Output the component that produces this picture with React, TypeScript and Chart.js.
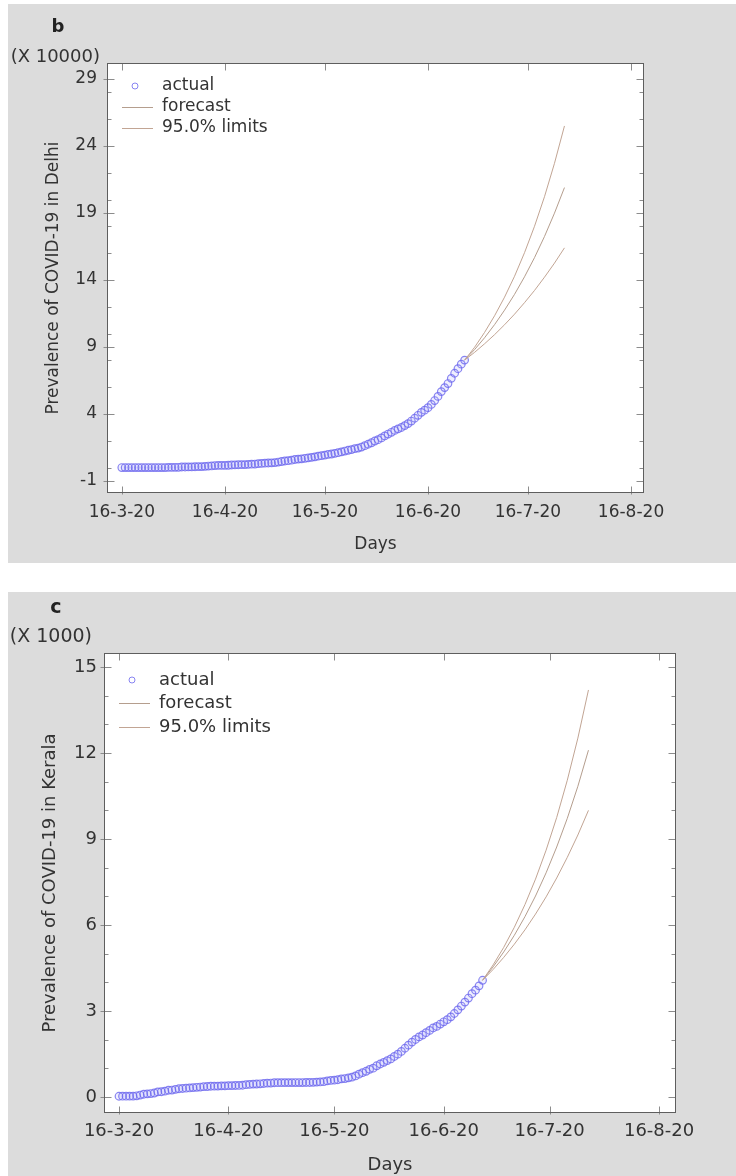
import React, { useEffect, useRef } from "react";
import { Chart, registerables } from "chart.js";

Chart.register(...registerables);

// ---------- data ----------
const xTickDays = [0, 31, 61, 92, 122, 153]; // days after 16-3-20
const xTickLabels = ["16-3-20", "16-4-20", "16-5-20", "16-6-20", "16-7-20", "16-8-20"];
const legendLabels = ["actual", "forecast", "95.0% limits"];
const forecastDays = [103, 106, 109, 112, 115, 118, 121, 124, 127, 130, 133];

// Delhi (X 10000), daily from 16-3-20
const delhiActual = [
  0, 0, 0, 0, 0, 0, 0, 0, 0, 0, 0, 0, 0, 0, 0.01, 0.01,
  0.02, 0.02, 0.04, 0.04, 0.05, 0.05, 0.06, 0.07, 0.07, 0.09, 0.11, 0.12, 0.15, 0.16, 0.16,
  0.16, 0.17, 0.19, 0.2, 0.21, 0.22, 0.22, 0.24, 0.25, 0.26, 0.29, 0.31, 0.33, 0.34, 0.35,
  0.37, 0.41, 0.45, 0.49, 0.51, 0.55, 0.6, 0.63, 0.65, 0.69, 0.72, 0.76, 0.8, 0.85, 0.89,
  0.93, 0.98, 1.01, 1.06, 1.11, 1.17, 1.23, 1.29, 1.34, 1.41, 1.45, 1.53, 1.63, 1.74, 1.85, 1.98,
  2.08, 2.21, 2.36, 2.5, 2.63, 2.77, 2.89, 2.99, 3.13, 3.28, 3.47, 3.68, 3.9, 4.12, 4.28,
  4.47, 4.71, 5.0, 5.31, 5.67, 5.97, 6.27, 6.66, 7.04, 7.38, 7.72, 8.02,
];
const delhiForecast = [8.02, 8.81, 9.69, 10.67, 11.75, 12.93, 14.24, 15.67, 17.25, 18.99, 20.9];
const delhiUpper = [8.02, 8.98, 10.09, 11.33, 12.72, 14.28, 16.04, 18.01, 20.22, 22.71, 25.5];
const delhiLower = [8.02, 8.6, 9.24, 9.92, 10.66, 11.45, 12.31, 13.22, 14.21, 15.26, 16.4];
const delhiYTicks = [-1, 4, 9, 14, 19, 24, 29];
const delhiYMinor = [0, 2, 6, 8, 10, 12, 16, 18, 20, 22, 26, 28];

// Kerala (X 1000), daily from 16-3-20
const keralaActual = [
  0.024, 0.026, 0.027, 0.028, 0.028, 0.04, 0.067, 0.095, 0.109, 0.118, 0.137, 0.176, 0.182, 0.202, 0.234, 0.241,
  0.265, 0.286, 0.295, 0.306, 0.314, 0.327, 0.336, 0.345, 0.357, 0.364, 0.374, 0.376, 0.379, 0.387, 0.388,
  0.395, 0.396, 0.4, 0.402, 0.408, 0.427, 0.438, 0.448, 0.451, 0.458, 0.469, 0.482, 0.485, 0.495, 0.497,
  0.499, 0.5, 0.5, 0.5, 0.503, 0.503, 0.503, 0.505, 0.505, 0.512, 0.519, 0.524, 0.534, 0.56, 0.576,
  0.587, 0.601, 0.63, 0.642, 0.666, 0.69, 0.732, 0.794, 0.847, 0.896, 0.963, 1.003, 1.088, 1.15, 1.208, 1.269,
  1.326, 1.412, 1.494, 1.588, 1.699, 1.807, 1.914, 2.005, 2.096, 2.161, 2.244, 2.322, 2.407, 2.461, 2.543,
  2.622, 2.697, 2.794, 2.912, 3.039, 3.172, 3.31, 3.451, 3.603, 3.726, 3.876, 4.071,
];
const keralaForecast = [4.07, 4.54, 5.06, 5.64, 6.29, 7.01, 7.82, 8.72, 9.72, 10.84, 12.1];
const keralaUpper = [4.07, 4.61, 5.22, 5.92, 6.71, 7.6, 8.61, 9.75, 11.05, 12.52, 14.2];
const keralaLower = [4.07, 4.45, 4.87, 5.33, 5.83, 6.38, 6.98, 7.64, 8.36, 9.14, 10.0];
const keralaYTicks = [0, 3, 6, 9, 12, 15];
const keralaYMinor = [1, 2, 4, 5, 7, 8, 10, 11, 13, 14];

// ---------- style ----------
const FONT = "'DejaVu Sans', 'Liberation Sans', Arial, sans-serif";
const TEXT = "#333333";
const BG = "#dcdcdc";
const MARK = "rgba(108, 102, 238, 0.8)";
const FC_COLOR = "#b59e8e";
const LIM_COLOR = "#c2a594";

type Spec = {
  letter: string;
  mult: string;
  yTitle: string;
  actual: number[];
  forecast: number[];
  upper: number[];
  lower: number[];
  yTicks: number[];
  yMinor: number[];
  yMin: number;
  yMax: number;
  xMin: number;
  xMax: number;
  top: number;
  height: number;
  pad: { top: number; right: number };
  yAxisW: number;
  xAxisH: number;
  fs: number;
  xLabPad: number;
  yLabPad: number;
  xTitlePad: number;
  yTitlePad: number;
  letterPos: [number, number];
  multPos: [number, number];
  legRows: number[];
};

const W = 728;

const specB: Spec = {
  letter: "b",
  mult: "(X 10000)",
  yTitle: "Prevalence of COVID-19 in Delhi",
  actual: delhiActual,
  forecast: delhiForecast,
  upper: delhiUpper,
  lower: delhiLower,
  yTicks: delhiYTicks,
  yMinor: delhiYMinor,
  yMin: -1.9,
  yMax: 30.2,
  xMin: -4.45,
  xMax: 156.9,
  top: 4,
  height: 559,
  pad: { top: 59, right: 92 },
  yAxisW: 99,
  xAxisH: 70,
  fs: 17,
  xLabPad: 9,
  yLabPad: 10,
  xTitlePad: 8,
  yTitlePad: 35,
  letterPos: [50, 28],
  multPos: [92, 53],
  legRows: [23, 44, 65],
};

const specC: Spec = {
  letter: "c",
  mult: "(X 1000)",
  yTitle: "Prevalence of COVID-19 in Kerala",
  actual: keralaActual,
  forecast: keralaForecast,
  upper: keralaUpper,
  lower: keralaLower,
  yTicks: keralaYTicks,
  yMinor: keralaYMinor,
  yMin: -0.56,
  yMax: 15.49,
  xMin: -4.25,
  xMax: 157.8,
  top: 592,
  height: 584,
  pad: { top: 61, right: 60 },
  yAxisW: 96,
  xAxisH: 63,
  fs: 18,
  xLabPad: 8,
  yLabPad: 7,
  xTitlePad: 0,
  yTitlePad: 32,
  letterPos: [48, 21],
  multPos: [84, 45],
  legRows: [27, 50, 74],
};

function decoPlugin(spec: Spec) {
  return {
    id: "deco",
    beforeDraw(chart: any) {
      const { ctx, chartArea: a, width, height } = chart;
      ctx.save();
      ctx.fillStyle = BG;
      ctx.fillRect(0, 0, width, height);
      ctx.fillStyle = "#ffffff";
      ctx.fillRect(a.left, a.top, a.right - a.left, a.bottom - a.top);
      ctx.restore();
    },
    afterDraw(chart: any) {
      const { ctx, chartArea: a, scales } = chart;
      const xs = scales.x;
      const ys = scales.y;
      const L = Math.round(a.left) + 0.5;
      const R = Math.round(a.right) - 0.5;
      const T = Math.round(a.top) + 0.5;
      const B = Math.round(a.bottom) - 0.5;
      ctx.save();
      // tick marks
      ctx.strokeStyle = "#8c8c8c";
      ctx.lineWidth = 1;
      ctx.beginPath();
      for (const v of spec.yTicks) {
        const y = Math.round(ys.getPixelForValue(v)) + 0.5;
        ctx.moveTo(L - 4, y);
        ctx.lineTo(L + 7, y);
        ctx.moveTo(R - 7, y);
        ctx.lineTo(R, y);
      }
      for (const v of spec.yMinor) {
        const y = Math.round(ys.getPixelForValue(v)) + 0.5;
        ctx.moveTo(L, y);
        ctx.lineTo(L + 4, y);
        ctx.moveTo(R - 4, y);
        ctx.lineTo(R, y);
      }
      for (const d of xTickDays) {
        const x = Math.round(xs.getPixelForValue(d)) + 0.5;
        ctx.moveTo(x, B + 2);
        ctx.lineTo(x, B - 6);
        ctx.moveTo(x, T);
        ctx.lineTo(x, T + 7);
      }
      ctx.stroke();
      // frame
      ctx.strokeStyle = "#5e5e5e";
      ctx.strokeRect(L, T, R - L, B - T);

      // legend
      const lx = a.left;
      const ly = a.top;
      ctx.font = `${spec.fs}px ${FONT}`;
      ctx.fillStyle = TEXT;
      ctx.textBaseline = "middle";
      ctx.textAlign = "left";
      ctx.fillText(legendLabels[0], lx + 55, ly + spec.legRows[0]);
      ctx.fillText(legendLabels[1], lx + 55, ly + spec.legRows[1]);
      ctx.fillText(legendLabels[2], lx + 55, ly + spec.legRows[2]);
      ctx.strokeStyle = MARK;
      ctx.beginPath();
      ctx.arc(lx + 28, ly + spec.legRows[0], 3, 0, Math.PI * 2);
      ctx.stroke();
      ctx.strokeStyle = FC_COLOR;
      ctx.beginPath();
      ctx.moveTo(lx + 15, Math.round(ly + spec.legRows[1]) + 0.5);
      ctx.lineTo(lx + 46, Math.round(ly + spec.legRows[1]) + 0.5);
      ctx.stroke();
      ctx.strokeStyle = LIM_COLOR;
      ctx.beginPath();
      ctx.moveTo(lx + 15, Math.round(ly + spec.legRows[2]) + 0.5);
      ctx.lineTo(lx + 46, Math.round(ly + spec.legRows[2]) + 0.5);
      ctx.stroke();

      // panel letter and multiplier
      ctx.fillStyle = "#222";
      ctx.font = `bold ${spec.fs + 1}px ${FONT}`;
      ctx.textAlign = "center";
      ctx.textBaseline = "alphabetic";
      ctx.fillText(spec.letter, spec.letterPos[0], spec.letterPos[1]);
      ctx.fillStyle = TEXT;
      ctx.font = `${spec.fs + 1}px ${FONT}`;
      ctx.textAlign = "right";
      ctx.textBaseline = "middle";
      ctx.fillText(spec.mult, spec.multPos[0], spec.multPos[1]);
      ctx.restore();
    },
  };
}

function Panel({ spec }: { spec: Spec }) {
  const ref = useRef<HTMLCanvasElement | null>(null);
  useEffect(() => {
    if (!ref.current) return;
    const toXY = (days: number[], vals: number[]) => vals.map((v, i) => ({ x: days[i], y: v }));
    const actualDays = spec.actual.map((_, i) => i);
    const chart = new Chart(ref.current, {
      type: "line",
      data: {
        datasets: [
          {
            label: "upper",
            data: toXY(forecastDays, spec.upper),
            borderColor: LIM_COLOR,
            borderWidth: 1,
            pointRadius: 0,
            fill: false,
          },
          {
            label: "lower",
            data: toXY(forecastDays, spec.lower),
            borderColor: LIM_COLOR,
            borderWidth: 1,
            pointRadius: 0,
            fill: false,
          },
          {
            label: "forecast",
            data: toXY(forecastDays, spec.forecast),
            borderColor: FC_COLOR,
            borderWidth: 1,
            pointRadius: 0,
            fill: false,
          },
          {
            label: "actual",
            data: toXY(actualDays, spec.actual),
            showLine: false,
            pointStyle: "circle",
            pointRadius: 3.8,
            pointBorderWidth: 1.2,
            pointBorderColor: MARK,
            pointBackgroundColor: "rgba(150,146,245,0.15)",
          },
        ],
      },
      options: {
        animation: false,
        responsive: false,
        devicePixelRatio: 1,
        events: [],
        layout: { padding: { left: 0, top: spec.pad.top, right: spec.pad.right, bottom: 0 } },
        plugins: { legend: { display: false }, tooltip: { enabled: false } },
        scales: {
          x: {
            type: "linear",
            min: spec.xMin,
            max: spec.xMax,
            grid: { display: false, drawTicks: false },
            border: { display: false },
            afterBuildTicks: (s: any) => {
              s.ticks = xTickDays.map((v) => ({ value: v }));
            },
            afterFit: (s: any) => {
              s.height = spec.xAxisH;
            },
            ticks: {
              autoSkip: false,
              maxRotation: 0,
              padding: spec.xLabPad,
              color: TEXT,
              font: { family: FONT, size: spec.fs },
              callback: (v: any) => {
                const i = xTickDays.indexOf(Number(v));
                return i >= 0 ? xTickLabels[i] : "";
              },
            },
            title: {
              display: true,
              text: "Days",
              color: TEXT,
              font: { family: FONT, size: spec.fs },
              padding: { top: 0, bottom: spec.xTitlePad },
            },
          },
          y: {
            type: "linear",
            min: spec.yMin,
            max: spec.yMax,
            grid: { display: false, drawTicks: false },
            border: { display: false },
            afterBuildTicks: (s: any) => {
              s.ticks = spec.yTicks.map((v) => ({ value: v }));
            },
            afterFit: (s: any) => {
              s.width = spec.yAxisW;
            },
            ticks: {
              autoSkip: false,
              padding: spec.yLabPad,
              color: TEXT,
              font: { family: FONT, size: spec.fs },
              callback: (v: any) => String(v),
            },
            title: {
              display: true,
              text: spec.yTitle,
              color: TEXT,
              font: { family: FONT, size: spec.fs },
              padding: { top: spec.yTitlePad, bottom: 0 },
            },
          },
        },
      },
      plugins: [decoPlugin(spec)],
    } as any);
    return () => chart.destroy();
  }, [spec]);
  return (
    <canvas
      ref={ref}
      width={W}
      height={spec.height}
      style={{ position: "absolute", left: 8, top: spec.top, width: W, height: spec.height }}
    />
  );
}

export default function App() {
  return (
    <div style={{ position: "absolute", left: 0, top: 0, width: 736, height: 1176, background: "#ffffff" }}>
      <Panel spec={specB} />
      <Panel spec={specC} />
    </div>
  );
}
